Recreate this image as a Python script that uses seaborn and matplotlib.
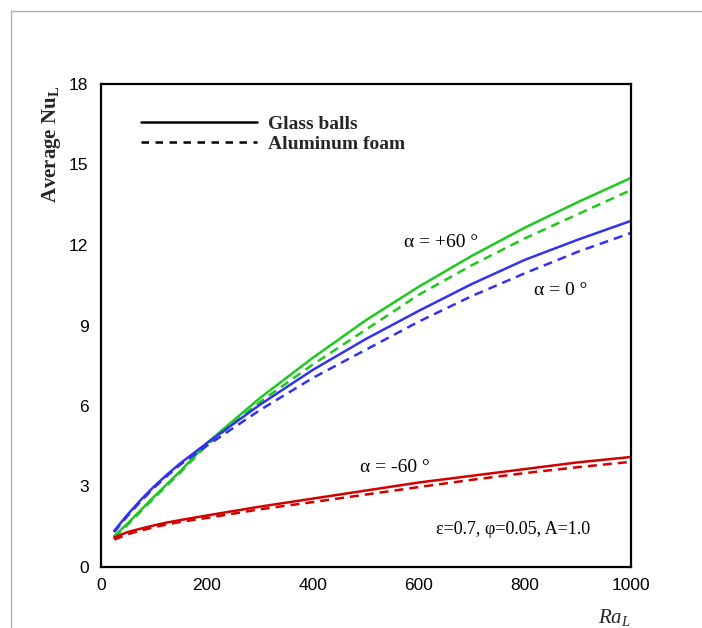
import numpy as np
import pandas as pd
import matplotlib
matplotlib.use("Agg")
import matplotlib.pyplot as plt
from matplotlib.lines import Line2D
from matplotlib.ticker import MultipleLocator
import seaborn as sns

# ---------------- data ----------------
ra = [25, 50, 75, 100, 125, 150, 200, 300, 400, 500, 600, 700, 800, 900, 1000]

nu_p60_glass = [1.15, 1.62, 2.12, 2.62, 3.10, 3.58, 4.62, 6.30, 7.80, 9.20, 10.45, 11.60, 12.65, 13.60, 14.50]
nu_p60_foam  = [1.10, 1.57, 2.07, 2.57, 3.05, 3.53, 4.55, 6.15, 7.55, 8.85, 10.15, 11.25, 12.25, 13.15, 14.05]
nu_0_glass   = [1.35, 1.95, 2.50, 3.00, 3.45, 3.87, 4.62, 6.05, 7.35, 8.50, 9.55, 10.55, 11.45, 12.20, 12.90]
nu_0_foam    = [1.30, 1.90, 2.45, 2.95, 3.40, 3.82, 4.52, 5.85, 7.05, 8.10, 9.15, 10.10, 10.95, 11.75, 12.45]
nu_m60_glass = [1.10, 1.30, 1.43, 1.55, 1.66, 1.75, 1.92, 2.25, 2.55, 2.85, 3.15, 3.40, 3.65, 3.90, 4.10]
nu_m60_foam  = [1.02, 1.22, 1.36, 1.48, 1.59, 1.68, 1.83, 2.15, 2.42, 2.70, 2.98, 3.25, 3.50, 3.72, 3.92]

angles = ["+60", "0", "-60"]
materials = ["Glass balls", "Aluminum foam"]
series = {
    ("+60", "Glass balls"): nu_p60_glass,
    ("+60", "Aluminum foam"): nu_p60_foam,
    ("0", "Glass balls"): nu_0_glass,
    ("0", "Aluminum foam"): nu_0_foam,
    ("-60", "Glass balls"): nu_m60_glass,
    ("-60", "Aluminum foam"): nu_m60_foam,
}
x_ticks = [0, 200, 400, 600, 800, 1000]
y_ticks = [0, 3, 6, 9, 12, 15, 18]

rows = []
for (ang, mat), vals in series.items():
    for r, v in zip(ra, vals):
        rows.append({"Ra": r, "Nu": v, "angle": ang, "material": mat})
df = pd.DataFrame(rows)

# ---------------- style ----------------
sns.set_theme(style="white")
plt.rcParams["font.family"] = ["Liberation Sans", "DejaVu Sans"]
plt.rcParams["mathtext.fontset"] = "custom"
plt.rcParams["mathtext.rm"] = "Liberation Serif"
plt.rcParams["mathtext.it"] = "Liberation Serif:italic"
plt.rcParams["mathtext.bf"] = "Liberation Serif:bold"

palette = {"+60": "#1ec81e", "0": "#3232f0", "-60": "#d20000"}
dashes = {"Glass balls": "", "Aluminum foam": (3.6, 2.4)}

fig = plt.figure(figsize=(7.02, 6.28), dpi=100)
ax = fig.add_axes([101 / 702, 1 - 567 / 628, 530 / 702, 483 / 628])

sns.lineplot(data=df, x="Ra", y="Nu", hue="angle", style="material",
             palette=palette, dashes=dashes, hue_order=angles,
             style_order=materials, linewidth=1.8, ax=ax, legend=False)

ax.set_xlim(0, 1000)
ax.set_ylim(0, 18)
ax.set_xticks(x_ticks)
ax.set_yticks(y_ticks)
ax.set_xticklabels([str(t) for t in x_ticks])
ax.set_yticklabels([str(t) for t in y_ticks])
ax.xaxis.set_minor_locator(MultipleLocator(50))
ax.yaxis.set_minor_locator(MultipleLocator(0.6))
ax.tick_params(which="both", direction="in", top=False, right=False, colors="black")
ax.tick_params(which="major", length=12, width=1.6, labelsize=12.5, pad=8)
ax.tick_params(which="minor", length=7, width=0.8)
ax.tick_params(axis="y", which="major", pad=9)
for s in ax.spines.values():
    s.set_linewidth(1.6)
    s.set_color("black")

ax.set_xlabel(r"$Ra_L$", fontsize=15)
ax.xaxis.set_label_coords(0.968, -0.105)
ax.xaxis.label.set_va("center")
ax.set_ylabel(r"Average Nu$_\mathbf{L}$", fontsize=15, fontweight="bold",
              family="Liberation Serif")
ax.yaxis.set_label_coords(-0.094, 0.876)
ax.yaxis.label.set_va("center")

# legend (line styles only, black)
handles = [Line2D([], [], color="black", lw=1.8, ls="-"),
           Line2D([], [], color="black", lw=1.8, ls=(0, (3, 2.6)))]
ax.legend(handles, materials, loc="upper left", bbox_to_anchor=(0.049, 0.964),
          frameon=False, handlelength=6.0, handletextpad=0.55, labelspacing=0.12,
          borderpad=0.2, prop={"family": "Liberation Serif", "weight": "bold", "size": 14})

serif = {"family": "Liberation Serif", "color": "black"}
ax.text(641, 12.08, "α = +60 °", ha="center", va="center", fontsize=14, **serif)
ax.text(868, 10.3, "α = 0 °", ha="center", va="center", fontsize=14, **serif)
ax.text(555, 3.7, "α = -60 °", ha="center", va="center", fontsize=14, **serif)
ax.text(777, 1.38, "ε=0.7, φ=0.05, A=1.0", ha="center", va="center", fontsize=13, **serif)

# light gray frame (left and top edges of the image)
fig.add_artist(Line2D([10.5 / 702, 10.5 / 702], [0, 1 - 10.5 / 628], color="#b0b0b0", lw=1))
fig.add_artist(Line2D([10.5 / 702, 1], [1 - 10.5 / 628, 1 - 10.5 / 628], color="#b0b0b0", lw=1))

fig.savefig("out.png", dpi=100)
